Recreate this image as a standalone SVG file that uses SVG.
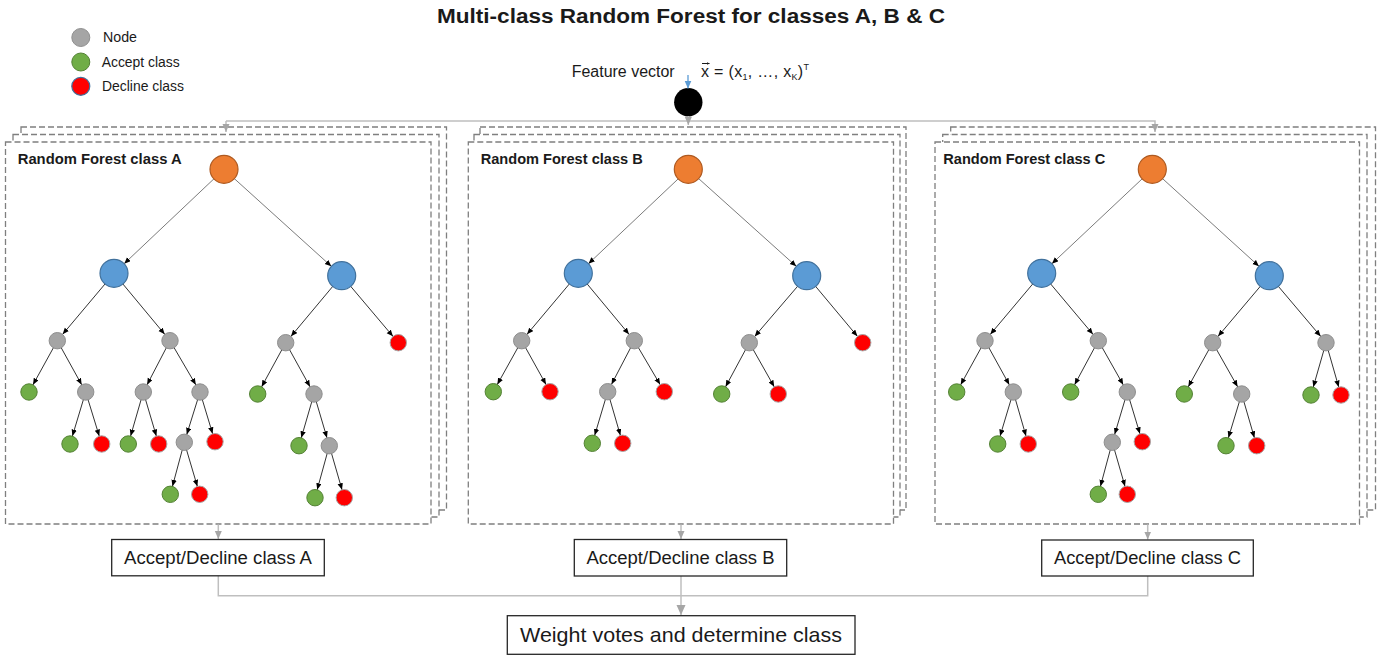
<svg xmlns="http://www.w3.org/2000/svg" width="1391" height="660" viewBox="0 0 1391 660">
  <style>
    text { font-family: "Liberation Sans", Arial, sans-serif; fill: #1a1a1a; }
    .title { font-size: 20px; font-weight: bold; }
    .ftitle { font-size: 15px; font-weight: bold; }
    .legend { font-size: 14px; }
    .label { font-size: 18px; }
    .frame { fill: #ffffff; stroke: #7f7f7f; stroke-width: 1.3; stroke-dasharray: 6 3; }
    .box { fill: #ffffff; stroke: #262626; stroke-width: 1.3; }
    .feed { fill: none; stroke: #bfbfbf; stroke-width: 1.5; }
    .edge { fill: none; stroke: #333333; stroke-width: 1; marker-end: url(#tip-leaf); }
    .edge-top { fill: none; stroke: #595959; stroke-width: 0.8; marker-end: url(#tip-big); }
    .root { fill: #ed7d31; stroke: #ae5a21; stroke-width: 1.2; }
    .inner { fill: #5b9bd5; stroke: #41719c; stroke-width: 1.2; }
    .node { fill: #a5a5a5; stroke: #8f8f8f; stroke-width: 1; }
    .accept { fill: #70ad47; stroke: #548235; stroke-width: 1; }
    .decline { fill: #ff0000; stroke: #a6a6a6; stroke-width: 1; }
  </style>
  <defs>
    <marker id="tip-leaf" markerUnits="userSpaceOnUse" markerWidth="8" markerHeight="6" refX="14.8" refY="2.7" orient="auto">
      <path d="M0,0 L6.5,2.7 L0,5.4 z" fill="#000000"/>
    </marker>
    <marker id="tip-big" markerUnits="userSpaceOnUse" markerWidth="8" markerHeight="6" refX="20.5" refY="2.7" orient="auto">
      <path d="M0,0 L6.5,2.7 L0,5.4 z" fill="#000000"/>
    </marker>
    <marker id="feed-tip" markerUnits="userSpaceOnUse" markerWidth="9" markerHeight="8" refX="8" refY="3.5" orient="auto">
      <path d="M0,0 L8,3.5 L0,7 z" fill="#a6a6a6"/>
    </marker>
    <marker id="vote-tip" markerUnits="userSpaceOnUse" markerWidth="11" markerHeight="10" refX="10" refY="4.5" orient="auto">
      <path d="M0,0 L10,4.5 L0,9 z" fill="#a6a6a6"/>
    </marker>
    <marker id="input-tip" markerUnits="userSpaceOnUse" markerWidth="9" markerHeight="8" refX="8" refY="3.5" orient="auto">
      <path d="M0,0 L8,3.5 L0,7 z" fill="#5b9bd5"/>
    </marker>
    <marker id="vec-tip" markerUnits="userSpaceOnUse" markerWidth="4" markerHeight="4" refX="3" refY="1.5" orient="auto">
      <path d="M0,0 L3,1.5 L0,3 z" fill="#1a1a1a"/>
    </marker>
  </defs>

  <text class="title" x="691" y="23" text-anchor="middle" textLength="508" lengthAdjust="spacingAndGlyphs">Multi-class Random Forest for classes A, B &amp; C</text>

  <!-- legend -->
  <g id="legend">
    <circle cx="80.8" cy="37.5" r="9" class="node"/>
    <circle cx="80.8" cy="62" r="9" class="accept"/>
    <circle cx="80.8" cy="86.3" r="9" fill="#ff0000" stroke="#41719c" stroke-width="1.2"/>
    <text class="legend" x="103" y="42.3" textLength="34" lengthAdjust="spacingAndGlyphs">Node</text>
    <text class="legend" x="101.7" y="66.7" textLength="78" lengthAdjust="spacingAndGlyphs">Accept class</text>
    <text class="legend" x="102" y="90.7" textLength="82" lengthAdjust="spacingAndGlyphs">Decline class</text>
  </g>

  <!-- input feature vector -->
  <g id="feature-vector">
    <text x="571.7" y="76.7" font-size="16" textLength="103" lengthAdjust="spacingAndGlyphs">Feature vector</text>
    <!-- vector arrow over x -->
    <line x1="702" y1="63.5" x2="709.5" y2="63.5" stroke="#1a1a1a" stroke-width="1" marker-end="url(#vec-tip)"/>
    <text x="701" y="76.7" font-size="16" textLength="108" lengthAdjust="spacing">x = (x<tspan font-size="9" dy="3">1</tspan><tspan dy="-3">, …, x</tspan><tspan font-size="9" dy="3">K</tspan><tspan dy="-3">)</tspan><tspan font-size="9" dy="-7">T</tspan></text>
    <circle cx="688.3" cy="102.3" r="14.2" fill="#000000"/>
  </g>

  <!-- forest frames (stacked copies) -->
  <g id="forest-a">
    <rect class="frame" x="21" y="127" width="425.5" height="383"/>
    <rect class="frame" x="13" y="134.5" width="426" height="382.5"/>
    <rect class="frame" x="5.5" y="142" width="425.5" height="382"/>
    <text class="ftitle" x="17.7" y="164" textLength="164" lengthAdjust="spacingAndGlyphs">Random Forest class A</text>
  </g>
  <g id="forest-b">
    <rect class="frame" x="480" y="127" width="426" height="383"/>
    <rect class="frame" x="474" y="134.5" width="426" height="382.5"/>
    <rect class="frame" x="468.3" y="142" width="425.2" height="382"/>
    <text class="ftitle" x="480.7" y="164" textLength="162" lengthAdjust="spacingAndGlyphs">Random Forest class B</text>
  </g>
  <g id="forest-c">
    <rect class="frame" x="950.7" y="127" width="424.8" height="383"/>
    <rect class="frame" x="942.7" y="134.5" width="424.3" height="382.5"/>
    <rect class="frame" x="935" y="142" width="424.5" height="382"/>
    <text class="ftitle" x="943.3" y="164" textLength="162" lengthAdjust="spacingAndGlyphs">Random Forest class C</text>
  </g>

  <!-- connectors -->
  <g id="connectors">
    <!-- input distribution -->
    <line x1="688" y1="75" x2="688" y2="88.5" stroke="#5b9bd5" stroke-width="1.3" marker-end="url(#input-tip)"/>
    <polyline class="feed" points="226,121 1155,121 1155,132" marker-end="url(#feed-tip)"/>
    <line class="feed" x1="226" y1="121" x2="226" y2="132" marker-end="url(#feed-tip)"/>
    <line class="feed" x1="688.3" y1="116" x2="688.3" y2="125" marker-end="url(#feed-tip)"/>
    <!-- forest outputs -->
    <line class="feed" x1="218.3" y1="524.5" x2="218.3" y2="539" marker-end="url(#feed-tip)"/>
    <line class="feed" x1="681" y1="524.5" x2="681" y2="539" marker-end="url(#feed-tip)"/>
    <line class="feed" x1="1147.7" y1="524.5" x2="1147.7" y2="539.5" marker-end="url(#feed-tip)"/>
    <polyline class="feed" points="218.3,576 218.3,595.7 1147.7,595.7 1147.7,576"/>
    <line class="feed" x1="681" y1="576" x2="681" y2="615" marker-end="url(#vote-tip)"/>

    <!-- tree A -->
    <line class="edge-top" x1="224" y1="169.3" x2="114" y2="273.3"/>
    <line class="edge-top" x1="224" y1="169.3" x2="341.7" y2="275.7"/>
    <line class="edge" x1="114" y1="273.3" x2="57.3" y2="340.7"/>
    <line class="edge" x1="114" y1="273.3" x2="170" y2="340.7"/>
    <line class="edge" x1="57.3" y1="340.7" x2="29" y2="392"/>
    <line class="edge" x1="57.3" y1="340.7" x2="85.7" y2="392"/>
    <line class="edge" x1="85.7" y1="392" x2="70" y2="444"/>
    <line class="edge" x1="85.7" y1="392" x2="101.7" y2="444"/>
    <line class="edge" x1="170" y1="340.7" x2="143.3" y2="392"/>
    <line class="edge" x1="170" y1="340.7" x2="200" y2="392"/>
    <line class="edge" x1="143.3" y1="392" x2="128.3" y2="444"/>
    <line class="edge" x1="143.3" y1="392" x2="158.7" y2="444"/>
    <line class="edge" x1="200" y1="392" x2="184.3" y2="442.3"/>
    <line class="edge" x1="200" y1="392" x2="215" y2="441.7"/>
    <line class="edge" x1="184.3" y1="442.3" x2="170.3" y2="494.3"/>
    <line class="edge" x1="184.3" y1="442.3" x2="199.7" y2="494.3"/>
    <line class="edge" x1="341.7" y1="275.7" x2="285.7" y2="342.7"/>
    <line class="edge" x1="341.7" y1="275.7" x2="398.3" y2="342.7"/>
    <line class="edge" x1="285.7" y1="342.7" x2="257.7" y2="394"/>
    <line class="edge" x1="285.7" y1="342.7" x2="314" y2="394"/>
    <line class="edge" x1="314" y1="394" x2="299" y2="445.7"/>
    <line class="edge" x1="314" y1="394" x2="329.3" y2="445.7"/>
    <line class="edge" x1="329.3" y1="445.7" x2="315" y2="497.7"/>
    <line class="edge" x1="329.3" y1="445.7" x2="344.3" y2="497.7"/>

    <!-- tree B -->
    <line class="edge-top" x1="688.3" y1="169.3" x2="578.3" y2="273.3"/>
    <line class="edge-top" x1="688.3" y1="169.3" x2="806.7" y2="275.7"/>
    <line class="edge" x1="578.3" y1="273.3" x2="521.7" y2="340.7"/>
    <line class="edge" x1="578.3" y1="273.3" x2="634.3" y2="340.7"/>
    <line class="edge" x1="521.7" y1="340.7" x2="493.3" y2="391.7"/>
    <line class="edge" x1="521.7" y1="340.7" x2="550" y2="391.7"/>
    <line class="edge" x1="634.3" y1="340.7" x2="607.7" y2="391.7"/>
    <line class="edge" x1="634.3" y1="340.7" x2="664.3" y2="391.7"/>
    <line class="edge" x1="607.7" y1="391.7" x2="592.3" y2="443.3"/>
    <line class="edge" x1="607.7" y1="391.7" x2="622.7" y2="443.3"/>
    <line class="edge" x1="806.7" y1="275.7" x2="749.3" y2="342.7"/>
    <line class="edge" x1="806.7" y1="275.7" x2="862.7" y2="342.7"/>
    <line class="edge" x1="749.3" y1="342.7" x2="721.7" y2="394"/>
    <line class="edge" x1="749.3" y1="342.7" x2="778.3" y2="394"/>

    <!-- tree C -->
    <line class="edge-top" x1="1152.3" y1="169.3" x2="1041.7" y2="273.3"/>
    <line class="edge-top" x1="1152.3" y1="169.3" x2="1269.3" y2="275.7"/>
    <line class="edge" x1="1041.7" y1="273.3" x2="985" y2="340.7"/>
    <line class="edge" x1="1041.7" y1="273.3" x2="1098.3" y2="340.7"/>
    <line class="edge" x1="985" y1="340.7" x2="956.7" y2="392"/>
    <line class="edge" x1="985" y1="340.7" x2="1013.3" y2="392"/>
    <line class="edge" x1="1013.3" y1="392" x2="997.7" y2="444"/>
    <line class="edge" x1="1013.3" y1="392" x2="1028.3" y2="444"/>
    <line class="edge" x1="1098.3" y1="340.7" x2="1070.7" y2="392"/>
    <line class="edge" x1="1098.3" y1="340.7" x2="1127.3" y2="392"/>
    <line class="edge" x1="1127.3" y1="392" x2="1112.3" y2="442.3"/>
    <line class="edge" x1="1127.3" y1="392" x2="1142.3" y2="441.7"/>
    <line class="edge" x1="1112.3" y1="442.3" x2="1098.3" y2="494.3"/>
    <line class="edge" x1="1112.3" y1="442.3" x2="1127.3" y2="494.3"/>
    <line class="edge" x1="1269.3" y1="275.7" x2="1212.7" y2="342.7"/>
    <line class="edge" x1="1269.3" y1="275.7" x2="1326" y2="342.7"/>
    <line class="edge" x1="1212.7" y1="342.7" x2="1184.3" y2="394"/>
    <line class="edge" x1="1212.7" y1="342.7" x2="1241.7" y2="394"/>
    <line class="edge" x1="1241.7" y1="394" x2="1226" y2="445.7"/>
    <line class="edge" x1="1241.7" y1="394" x2="1256.7" y2="445.7"/>
    <line class="edge" x1="1326" y1="342.7" x2="1311" y2="395"/>
    <line class="edge" x1="1326" y1="342.7" x2="1341" y2="395"/>
  </g>

  <!-- tree A nodes -->
  <g id="a-root"><circle cx="224" cy="169.3" r="14" class="root"/></g>
  <g id="a-b1"><circle cx="114" cy="273.3" r="14" class="inner"/></g>
  <g id="a-b2"><circle cx="341.7" cy="275.7" r="14" class="inner"/></g>
  <g id="a-n1"><circle cx="57.3" cy="340.7" r="8.2" class="node"/></g>
  <g id="a-n2"><circle cx="170" cy="340.7" r="8.2" class="node"/></g>
  <g id="a-n3"><circle cx="285.7" cy="342.7" r="8.2" class="node"/></g>
  <g id="a-d1"><circle cx="398.3" cy="342.7" r="8.2" class="decline"/></g>
  <g id="a-a1"><circle cx="29" cy="392" r="8.2" class="accept"/></g>
  <g id="a-n4"><circle cx="85.7" cy="392" r="8.2" class="node"/></g>
  <g id="a-n5"><circle cx="143.3" cy="392" r="8.2" class="node"/></g>
  <g id="a-n6"><circle cx="200" cy="392" r="8.2" class="node"/></g>
  <g id="a-a2"><circle cx="257.7" cy="394" r="8.2" class="accept"/></g>
  <g id="a-n7"><circle cx="314" cy="394" r="8.2" class="node"/></g>
  <g id="a-a3"><circle cx="70" cy="444" r="8.2" class="accept"/></g>
  <g id="a-d2"><circle cx="101.7" cy="444" r="8.2" class="decline"/></g>
  <g id="a-a4"><circle cx="128.3" cy="444" r="8.2" class="accept"/></g>
  <g id="a-d3"><circle cx="158.7" cy="444" r="8.2" class="decline"/></g>
  <g id="a-n8"><circle cx="184.3" cy="442.3" r="8.2" class="node"/></g>
  <g id="a-d4"><circle cx="215" cy="441.7" r="8.2" class="decline"/></g>
  <g id="a-a5"><circle cx="299" cy="445.7" r="8.2" class="accept"/></g>
  <g id="a-n9"><circle cx="329.3" cy="445.7" r="8.2" class="node"/></g>
  <g id="a-a6"><circle cx="170.3" cy="494.3" r="8.2" class="accept"/></g>
  <g id="a-d5"><circle cx="199.7" cy="494.3" r="8.2" class="decline"/></g>
  <g id="a-a7"><circle cx="315" cy="497.7" r="8.2" class="accept"/></g>
  <g id="a-d6"><circle cx="344.3" cy="497.7" r="8.2" class="decline"/></g>

  <!-- tree B nodes -->
  <g id="b-root"><circle cx="688.3" cy="169.3" r="14" class="root"/></g>
  <g id="b-b1"><circle cx="578.3" cy="273.3" r="14" class="inner"/></g>
  <g id="b-b2"><circle cx="806.7" cy="275.7" r="14" class="inner"/></g>
  <g id="b-n1"><circle cx="521.7" cy="340.7" r="8.2" class="node"/></g>
  <g id="b-n2"><circle cx="634.3" cy="340.7" r="8.2" class="node"/></g>
  <g id="b-n3"><circle cx="749.3" cy="342.7" r="8.2" class="node"/></g>
  <g id="b-d1"><circle cx="862.7" cy="342.7" r="8.2" class="decline"/></g>
  <g id="b-a1"><circle cx="493.3" cy="391.7" r="8.2" class="accept"/></g>
  <g id="b-d2"><circle cx="550" cy="391.7" r="8.2" class="decline"/></g>
  <g id="b-n4"><circle cx="607.7" cy="391.7" r="8.2" class="node"/></g>
  <g id="b-d3"><circle cx="664.3" cy="391.7" r="8.2" class="decline"/></g>
  <g id="b-a2"><circle cx="721.7" cy="394" r="8.2" class="accept"/></g>
  <g id="b-d4"><circle cx="778.3" cy="394" r="8.2" class="decline"/></g>
  <g id="b-a3"><circle cx="592.3" cy="443.3" r="8.2" class="accept"/></g>
  <g id="b-d5"><circle cx="622.7" cy="443.3" r="8.2" class="decline"/></g>

  <!-- tree C nodes -->
  <g id="c-root"><circle cx="1152.3" cy="169.3" r="14" class="root"/></g>
  <g id="c-b1"><circle cx="1041.7" cy="273.3" r="14" class="inner"/></g>
  <g id="c-b2"><circle cx="1269.3" cy="275.7" r="14" class="inner"/></g>
  <g id="c-n1"><circle cx="985" cy="340.7" r="8.2" class="node"/></g>
  <g id="c-n2"><circle cx="1098.3" cy="340.7" r="8.2" class="node"/></g>
  <g id="c-n3"><circle cx="1212.7" cy="342.7" r="8.2" class="node"/></g>
  <g id="c-n4"><circle cx="1326" cy="342.7" r="8.2" class="node"/></g>
  <g id="c-a1"><circle cx="956.7" cy="392" r="8.2" class="accept"/></g>
  <g id="c-n5"><circle cx="1013.3" cy="392" r="8.2" class="node"/></g>
  <g id="c-a2"><circle cx="1070.7" cy="392" r="8.2" class="accept"/></g>
  <g id="c-n6"><circle cx="1127.3" cy="392" r="8.2" class="node"/></g>
  <g id="c-a3"><circle cx="1184.3" cy="394" r="8.2" class="accept"/></g>
  <g id="c-n7"><circle cx="1241.7" cy="394" r="8.2" class="node"/></g>
  <g id="c-a4"><circle cx="1311" cy="395" r="8.2" class="accept"/></g>
  <g id="c-d1"><circle cx="1341" cy="395" r="8.2" class="decline"/></g>
  <g id="c-a5"><circle cx="997.7" cy="444" r="8.2" class="accept"/></g>
  <g id="c-d2"><circle cx="1028.3" cy="444" r="8.2" class="decline"/></g>
  <g id="c-n8"><circle cx="1112.3" cy="442.3" r="8.2" class="node"/></g>
  <g id="c-d3"><circle cx="1142.3" cy="441.7" r="8.2" class="decline"/></g>
  <g id="c-a6"><circle cx="1226" cy="445.7" r="8.2" class="accept"/></g>
  <g id="c-d4"><circle cx="1256.7" cy="445.7" r="8.2" class="decline"/></g>
  <g id="c-a7"><circle cx="1098.3" cy="494.3" r="8.2" class="accept"/></g>
  <g id="c-d5"><circle cx="1127.3" cy="494.3" r="8.2" class="decline"/></g>

  <!-- per-class decisions and final vote -->
  <g id="decision-a">
    <rect class="box" x="111.7" y="539.5" width="212.6" height="36.3"/>
    <text class="label" x="218" y="563.5" text-anchor="middle" textLength="188" lengthAdjust="spacingAndGlyphs">Accept/Decline class A</text>
  </g>
  <g id="decision-b">
    <rect class="box" x="574.3" y="539.5" width="212.4" height="36.5"/>
    <text class="label" x="680.5" y="563.5" text-anchor="middle" textLength="188" lengthAdjust="spacingAndGlyphs">Accept/Decline class B</text>
  </g>
  <g id="decision-c">
    <rect class="box" x="1041.7" y="540" width="211.6" height="36"/>
    <text class="label" x="1147.5" y="563.8" text-anchor="middle" textLength="187" lengthAdjust="spacingAndGlyphs">Accept/Decline class C</text>
  </g>
  <g id="vote">
    <rect class="box" x="507.3" y="615.7" width="347.7" height="38.6"/>
    <text x="681" y="641.5" font-size="21" text-anchor="middle" textLength="322" lengthAdjust="spacingAndGlyphs">Weight votes and determine class</text>
  </g>
</svg>
